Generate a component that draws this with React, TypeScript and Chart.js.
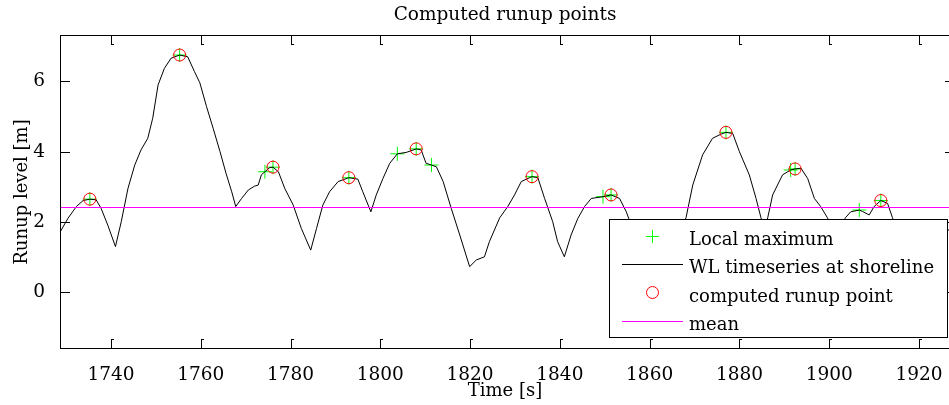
import React, { useEffect, useRef } from "react";
import { Chart, registerables } from "chart.js";

Chart.register(...registerables);

const FONT = "'DejaVu Serif', serif";

// WL timeseries at shoreline
const timeS = [
  1728.7, 1730.4, 1732.3, 1733.8, 1735.3, 1736.7, 1737.8, 1739.3, 1741.0, 1742.3,
  1743.8, 1745.3, 1746.7, 1748.2, 1749.3, 1750.5, 1751.9, 1753.4, 1755.3, 1757.1,
  1758.6, 1759.8, 1761.3, 1762.8, 1764.3, 1765.6, 1766.9, 1767.8, 1769.1, 1770.6,
  1772.0, 1772.8, 1773.5, 1774.3, 1775.4, 1776.1, 1777.3, 1778.7, 1780.6, 1782.4,
  1784.5, 1785.8, 1787.2, 1788.7, 1790.6, 1793.0, 1795.0, 1796.1, 1797.9, 1799.1,
  1800.6, 1802.1, 1803.8, 1805.8, 1808.0, 1809.1, 1810.2, 1811.4, 1812.5, 1814.0,
  1815.8, 1817.7, 1819.9, 1821.4, 1823.2, 1824.3, 1826.6, 1828.4, 1829.9, 1831.4,
  1832.9, 1833.8, 1835.1, 1836.6, 1838.4, 1839.5, 1841.0, 1842.5, 1844.0, 1845.5,
  1847.0, 1849.6, 1851.4, 1853.3, 1854.8, 1856.5, 1859.0, 1861.5, 1864.0, 1866.5,
  1868.1, 1869.6, 1871.8, 1874.0, 1875.9, 1877.0, 1878.5, 1880.0, 1882.2, 1883.7,
  1884.8, 1885.6, 1886.3, 1887.4, 1889.6, 1891.4, 1892.4, 1893.7, 1895.2, 1896.7,
  1898.1, 1899.6, 1901.5, 1903.6, 1904.8, 1906.7, 1907.4, 1908.9, 1910.0, 1911.5,
  1913.0, 1914.1, 1916.5, 1919.0, 1921.5, 1924.0, 1927.8,
];
const wlLevel = [
  1.72, 2.10, 2.44, 2.61, 2.65, 2.63, 2.39, 1.91, 1.30, 2.01,
  2.96, 3.62, 4.05, 4.38, 4.95, 5.90, 6.37, 6.66, 6.75, 6.70,
  6.28, 5.96, 5.28, 4.65, 4.00, 3.40, 2.86, 2.44, 2.67, 2.91,
  3.02, 3.05, 3.34, 3.43, 3.55, 3.56, 3.43, 2.96, 2.48, 1.82,
  1.20, 1.82, 2.48, 2.86, 3.15, 3.26, 3.22, 2.86, 2.29, 2.77,
  3.24, 3.67, 3.94, 3.98, 4.08, 4.05, 3.67, 3.62, 3.57, 3.15,
  2.39, 1.63, 0.73, 0.92, 1.01, 1.44, 2.12, 2.44, 2.77, 3.15,
  3.24, 3.29, 3.26, 2.67, 2.01, 1.44, 1.01, 1.63, 2.10, 2.44,
  2.67, 2.72, 2.77, 2.67, 2.29, 1.70, 0.90, 0.60, 1.00, 1.60,
  2.12, 3.05, 3.91, 4.38, 4.50, 4.55, 4.52, 4.00, 3.34, 2.67,
  2.12, 1.75, 2.12, 2.77, 3.34, 3.48, 3.51, 3.53, 3.24, 2.67,
  2.44, 2.12, 1.60, 2.12, 2.29, 2.34, 2.30, 2.20, 2.44, 2.61,
  2.53, 2.12, 1.30, 0.90, 1.10, 1.50, 1.90,
];

// Local maxima
const localMaxT = [1735.3, 1755.3, 1774.3, 1776.1, 1793.0, 1803.8, 1808.0, 1811.4, 1833.8, 1849.6, 1851.4, 1877.0, 1891.4, 1892.4, 1906.7, 1911.5];
const localMaxLevel = [2.65, 6.75, 3.43, 3.56, 3.26, 3.94, 4.08, 3.62, 3.29, 2.72, 2.77, 4.55, 3.48, 3.51, 2.34, 2.61];

// Computed runup points
const runupT = [1735.3, 1755.3, 1776.1, 1793.0, 1808.0, 1833.8, 1851.4, 1877.0, 1892.4, 1911.5];
const runupLevel = [2.65, 6.75, 3.56, 3.26, 4.08, 3.29, 2.77, 4.55, 3.51, 2.61];

const meanLevel = 2.412;

const xMin = 1728.65;
const xMax = 1927.8;
const yMin = -1.585;
const yMax = 7.32;

const xTickValues = [1740, 1760, 1780, 1800, 1820, 1840, 1860, 1880, 1900, 1920];
const yTickValues = [0, 2, 4, 6];

const legendLabels = ["Local maximum", "WL timeseries at shoreline", "computed runup point", "mean"];

const toPoints = (xs: number[], ys: number[]) => xs.map((x, i) => ({ x, y: ys[i] }));

const framePlugin = {
  id: "frame",
  afterDatasetsDraw(chart: any) {
    const ctx = chart.ctx;
    const a = chart.chartArea;
    const xs = chart.scales["x"];
    const ys = chart.scales["y"];
    ctx.save();
    ctx.fillStyle = "#000";
    const L = Math.round(a.left);
    const R = Math.round(a.right);
    const T = Math.round(a.top);
    const B = Math.round(a.bottom);
    // box
    ctx.fillRect(L, T, R - L + 1, 1);
    ctx.fillRect(L, B, R - L + 1, 1);
    ctx.fillRect(L, T, 1, B - T + 1);
    ctx.fillRect(R, T, 1, B - T + 1);
    // inward ticks
    const tl = 9;
    xTickValues.forEach((v) => {
      const px = Math.round(xs.getPixelForValue(v));
      ctx.fillRect(px, B - tl, 1, tl);
      ctx.fillRect(px, B - tl, 3, 1);
      ctx.fillRect(px, T + 1, 1, tl);
      ctx.fillRect(px, T + tl, 3, 1);
    });
    yTickValues.forEach((v) => {
      const py = Math.round(ys.getPixelForValue(v));
      ctx.fillRect(L + 1, py, tl, 1);
      ctx.fillRect(R - tl, py, tl, 1);
    });

    // texts
    ctx.font = `18.5px ${FONT}`;
    ctx.textAlign = "center";
    ctx.textBaseline = "alphabetic";
    ctx.fillText("Computed runup points", 505, 20);
    ctx.font = `18px ${FONT}`;
    ctx.fillText("Time [s]", 505, 396);
    ctx.save();
    ctx.translate(26.5, 192);
    ctx.rotate(-Math.PI / 2);
    ctx.fillText("Runup level [m]", 0, 0);
    ctx.restore();

    // legend
    const lx = 609, ly = 219, lw = 339, lh = 119;
    ctx.fillStyle = "#fff";
    ctx.fillRect(lx, ly, lw, lh);
    ctx.fillStyle = "#000";
    ctx.fillRect(lx, ly, lw, 1);
    ctx.fillRect(lx, ly + lh - 1, lw, 1);
    ctx.fillRect(lx, ly, 1, lh);
    ctx.fillRect(lx + lw - 1, ly, 1, lh);
    const symY = [236, 264, 292.5, 321];
    const symX = 652;
    ctx.fillStyle = "#00ff00";
    ctx.fillRect(symX - 6, symY[0], 13, 1);
    ctx.fillRect(symX, symY[0] - 6, 1, 13);
    ctx.fillStyle = "#000";
    ctx.fillRect(622, symY[1], 61, 1);
    ctx.strokeStyle = "#ff0000";
    ctx.lineWidth = 1;
    ctx.beginPath();
    ctx.arc(symX + 0.5, symY[2], 6, 0, Math.PI * 2);
    ctx.stroke();
    ctx.fillStyle = "#ff00ff";
    ctx.fillRect(622, symY[3], 61, 1);
    ctx.fillStyle = "#000";
    ctx.font = `18px ${FONT}`;
    ctx.textAlign = "left";
    legendLabels.forEach((t, i) => {
      ctx.fillText(t, 689, Math.round(symY[i]) + 9);
    });
    ctx.restore();
  },
};

export default function App() {
  const ref = useRef<HTMLCanvasElement>(null);
  useEffect(() => {
    document.body.style.margin = "0";
    const canvas = ref.current;
    if (!canvas) return;
    const chart = new Chart(canvas, {
      type: "scatter",
      data: {
        datasets: [
          {
            label: legendLabels[0],
            data: toPoints(localMaxT, localMaxLevel),
            pointStyle: "cross",
            pointRadius: 7,
            borderColor: "#00ff00",
            backgroundColor: "#00ff00",
            borderWidth: 1,
            showLine: false,
            order: 4,
          },
          {
            label: legendLabels[1],
            data: toPoints(timeS, wlLevel),
            showLine: true,
            borderColor: "#000",
            borderWidth: 1,
            pointRadius: 0,
            tension: 0,
            order: 3,
          },
          {
            label: legendLabels[2],
            data: toPoints(runupT, runupLevel),
            pointStyle: "circle",
            pointRadius: 6,
            borderColor: "#ff0000",
            backgroundColor: "rgba(0,0,0,0)",
            borderWidth: 1,
            showLine: false,
            order: 2,
          },
          {
            label: legendLabels[3],
            data: [
              { x: xMin, y: meanLevel },
              { x: xMax, y: meanLevel },
            ],
            showLine: true,
            borderColor: "#ff00ff",
            borderWidth: 1,
            pointRadius: 0,
            order: 1,
          },
        ],
      },
      options: {
        animation: false,
        responsive: false,
        devicePixelRatio: 1,
        layout: { padding: { left: 0, right: 6, top: 35, bottom: 0 } },
        plugins: { legend: { display: false }, title: { display: false }, tooltip: { enabled: false } },
        scales: {
          x: {
            type: "linear",
            min: xMin,
            max: xMax,
            grid: { display: false },
            border: { display: false },
            afterBuildTicks: (s: any) => {
              s.ticks = xTickValues.map((v) => ({ value: v }));
            },
            afterFit: (s: any) => {
              s.height = 57;
              s.paddingLeft = 0;
              s.paddingRight = 0;
            },
            ticks: {
              color: "#000",
              font: { family: FONT, size: 18.5 },
              padding: 8,
              maxRotation: 0,
              autoSkip: false,
              callback: (v: any) => String(v),
            },
          },
          y: {
            type: "linear",
            min: yMin,
            max: yMax,
            grid: { display: false },
            border: { display: false },
            afterBuildTicks: (s: any) => {
              s.ticks = yTickValues.map((v) => ({ value: v }));
            },
            afterFit: (s: any) => {
              s.width = 60;
              s.paddingTop = 0;
              s.paddingBottom = 0;
            },
            ticks: {
              color: "#000",
              font: { family: FONT, size: 18.5 },
              padding: 7,
              autoSkip: false,
              callback: (v: any) => String(v),
            },
          },
        },
      },
      plugins: [framePlugin],
    } as any);
    return () => chart.destroy();
  }, []);
  return (
    <div style={{ width: 949, height: 405, overflow: "hidden" }}>
      <canvas ref={ref} width={962} height={405} style={{ display: "block", width: 962, height: 405 }} />
    </div>
  );
}
